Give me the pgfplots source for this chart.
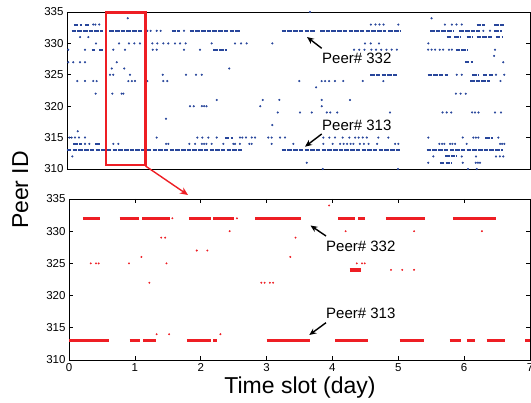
\documentclass[border=0pt]{standalone}
\usepackage{fontspec}
\setmainfont{Liberation Sans}
\usepackage{pgfplots}
\pgfplotsset{compat=1.18}
\usetikzlibrary{arrows.meta}

\definecolor{peerblue}{RGB}{40,70,155}
\definecolor{peerred}{RGB}{238,30,36}

\pgfplotsset{
  peer/.style={
    scale only axis,
    ymin=310, ymax=335,
    ytick={310,315,...,335},
    tick align=inside,
    major tick length=4pt,
    axis line style={line width=0.9pt},
    every tick/.style={black, line width=0.7pt},
    tick label style={font=\fontsize{11.5}{13}\selectfont},
    /pgf/number format/assume math mode=true,
    unbounded coords=jump,
  },
  runs/.style={no marks, line width=#1},
  dots/.style={only marks, mark=*, mark size=0.85pt},
}

\begin{document}
\begin{tikzpicture}
\path[use as bounding box] (0,0) rectangle (531pt,-403pt);

% ---- top: whole trace ----
\begin{axis}[peer, at={(67pt,-12pt)}, anchor=north west,
  width=463pt, height=157pt, xmin=0, xmax=80, xtick=\empty]
\addplot[runs=1.9pt, peerblue, dash pattern=on 4.5pt off 1.2pt] coordinates {
 (0.81,332) (6.27,332) (6.27,nan) (7.31,332) (12.91,332) (12.91,nan)
 (18.09,332) (19.53,332) (19.53,nan) (21.2,332) (30.0,332) (30.0,nan)
 (37.1,332) (43.0,332) (43.0,nan) (43.72,332) (55.12,332) (55.12,nan)
 (55.52,332) (57.54,332) (57.54,nan) (62.73,332) (66.92,332) (66.92,nan)
 (67.79,332) (71.37,332) (71.37,nan) (73.84,332) (75.22,332) (75.22,nan)
 (0,313) (30.19,313) (30.19,nan) (37.1,313) (57.54,313) (57.54,nan)
 (62.16,313) (75.39,313) (75.39,nan)
 (1.2,333) (2.54,333) (2.54,nan) (3.1,333) (3.85,333) (3.85,nan)
 (70.8,333) (72.2,333) (72.2,nan) (73.8,333) (75.56,333) (75.56,nan)
 (65.6,331) (66.4,331) (66.4,nan) (66.9,331) (68.1,331) (68.1,nan)
 (69.07,331) (70.2,331) (70.2,nan) (70.8,331) (73.4,331) (73.4,nan)
 (74.1,331) (75.2,331) (75.2,nan)
 (4.27,329) (4.84,329) (4.84,nan) (5.58,329) (6.17,329) (6.17,nan)
 (25.28,329) (27.6,329) (27.6,nan) (67.17,329) (69.34,329) (69.34,nan)
 (68.77,327) (70.16,327) (70.16,nan)
 (52.4,325) (57.0,325) (57.0,nan) (62.3,325) (65.9,325) (65.9,nan)
 (69.98,325) (71.0,325) (71.0,nan) (71.88,325) (73.6,325) (73.6,nan)
 (69.64,324) (73.09,324) (73.09,nan)
 (27.3,315) (28.74,315) (28.74,nan) (72.23,315) (73.66,315) (73.66,nan)
 (1.09,314) (2.54,314) (2.54,nan) (4.84,314) (5.7,314) (5.7,nan)
 (65.32,312) (67.34,312) (67.34,nan) (64.45,311) (66.48,311)
};
\addplot[dots, peerblue] coordinates {
 (42.0,335) (10.49,334) (63.0,334)
 (4.54,333) (4.9,333) (5.58,333) (52.5,333) (53.3,333) (54.0,333) (54.7,333)
 (57.25,333) (65.3,333) (66.5,333) (67.3,333) (68.2,333)
 (13.88,332) (14.46,332) (15.5,332) (16.19,332) (20.22,332) (71.94,332) (73.09,332)
 (2.25,331) (3.68,331)
 (5.01,330) (8.99,330) (10.71,330) (11.63,330) (12.61,330) (13.6,330) (14.74,330)
 (15.6,330) (16.64,330) (17.5,330) (18.66,330) (19.53,330) (20.51,330) (25.0,330)
 (29.03,330) (30.07,330) (31.05,330) (35.48,330) (51.49,330) (52.48,330)
 (53.91,330) (62.43,330)
 (0.22,329) (3.11,329) (8.0,329) (10.02,329) (14.81,329) (15.5,329) (20.22,329)
 (22.98,329) (49.6,329) (50.5,329) (51.4,329) (52.6,329) (53.4,329) (54.3,329)
 (55.2,329) (56.1,329) (57.0,329) (62.4,329) (63.0,329) (63.6,329) (64.4,329)
 (65.0,329) (66.0,329) (66.5,329) (73.96,329)
 (73.8,328)
 (0.22,327) (1.09,327) (2.25,327) (3.11,327) (8.59,327) (75.39,327)
 (7.72,326) (9.9,326) (28.04,326)
 (7.43,325) (8.0,325) (10.89,325) (16.54,325) (20.56,325) (22.29,325) (23.28,325)
 (67.34,325) (68.2,325) (74.13,325) (75.56,325)
 (1.78,324) (3.11,324) (4.54,324) (5.13,324) (10.6,324) (11.2,324) (11.75,324)
 (13.88,324) (16.64,324) (17.33,324) (40.14,324) (44.0,324) (44.6,324) (45.3,324)
 (46.3,324) (47.74,324) (51.1,324) (54.66,324) (74.9,324)
 (43.03,323)
 (4.96,322) (7.83,322) (9.45,322) (9.73,322) (67.2,322) (68.0,322) (68.9,322)
 (25.87,321) (33.82,321) (36.69,321) (44.01,321) (48.9,321)
 (21.25,320) (21.9,320) (23.3,320) (23.7,320) (24.1,320) (33.4,320) (44.01,320)
 (36.4,319) (40.26,319) (42.28,319) (44.9,319) (45.5,319) (46.7,319) (55.8,319)
 (64.9,319) (65.6,319) (66.4,319) (70.0,319) (70.5,319) (71.1,319) (73.96,319)
 (74.99,319)
 (17.11,318) (35.48,317) (1.85,316)
 (0.4,315) (0.8,315) (1.38,315) (2.07,315) (3.11,315) (15.5,315) (22.52,315)
 (23.38,315) (24.42,315) (25.87,315) (29.89,315) (30.29,315) (30.93,315)
 (31.92,315) (32.49,315) (34.78,315) (35.37,315) (36.81,315) (37.67,315)
 (44.29,315) (45.33,315) (46.31,315) (47.64,315) (48.78,315) (49.8,315)
 (50.4,315) (51.1,315) (51.8,315) (53.79,315) (55.52,315) (62.43,315)
 (68.38,315) (70.21,315) (70.64,315) (71.07,315) (74.53,315)
 (3.11,314) (3.85,314) (8.0,314) (8.86,314) (17.11,314) (17.5,314) (21.13,314)
 (22.12,314) (23.3,314) (23.7,314) (24.1,314) (25.0,314) (27.01,314) (28.74,314)
 (29.03,314) (29.89,314) (31.5,314) (31.92,314) (35.37,314) (39.1,314)
 (44.29,314) (45.91,314) (47.2,314) (47.8,314) (48.4,314) (49.0,314) (49.5,314)
 (50.6,314) (51.3,314) (52.1,314) (53.6,314) (56.68,314) (57.25,314) (64.33,314)
 (64.8,314) (65.2,314) (66.18,314) (66.6,314) (67.05,314) (69.07,314)
 (74.82,314) (75.2,314) (75.56,314)
 (0.92,312) (63.3,312) (68.2,312) (70.68,312) (74.13,312) (74.8,312) (75.39,312)
 (41.42,311) (62.43,311) (68.38,311) (70.62,311) (71.0,311) (71.37,311)
 (44.2,310) (57.2,310) (69.3,310) (70.8,310)
};
\end{axis}

% ---- bottom: one week ----
\begin{axis}[peer, at={(69pt,-199pt)}, anchor=north west,
  width=461pt, height=161pt, xmin=0, xmax=7, xtick={0,...,7}]
\addplot[runs=3.4pt, peerred] coordinates {
 (0.21,332) (0.47,332) (0.47,nan) (0.77,332) (1.07,332) (1.07,nan)
 (1.11,332) (1.53,332) (1.53,nan) (1.82,332) (2.16,332) (2.16,nan)
 (2.19,332) (2.51,332) (2.51,nan) (2.83,332) (3.53,332) (3.53,nan)
 (4.09,332) (4.34,332) (4.34,nan) (4.39,332) (4.49,332) (4.49,nan)
 (4.81,332) (5.40,332) (5.40,nan) (5.83,332) (6.48,332) (6.48,nan)
 (0.0,313) (0.60,313) (0.60,nan) (0.92,313) (1.08,313) (1.08,nan)
 (1.13,313) (1.32,313) (1.32,nan) (1.79,313) (2.16,313) (2.16,nan)
 (2.19,313) (2.25,313) (2.25,nan) (3.0,313) (3.66,313) (3.66,nan)
 (4.04,313) (4.54,313) (4.54,nan) (5.02,313) (5.39,313) (5.39,nan)
 (5.78,313) (5.95,313) (5.95,nan) (6.04,313) (6.16,313) (6.16,nan)
 (6.34,313) (6.62,313) (6.62,nan) (6.93,313) (7.0,313) (7.0,nan)
 (4.26,324) (4.44,324)
};
\addplot[dots, peerred, mark size=0.75pt] coordinates {
 (1.57,332) (2.55,332) (3.95,334)
 (2.44,330) (4.20,330) (5.24,330) (6.27,330)
 (1.40,329) (1.46,329) (3.44,329)
 (1.94,327) (2.10,327) (1.10,326) (3.36,326)
 (0.33,325) (0.41,325) (0.45,325) (0.91,325) (1.48,325) (4.37,325) (4.45,325) (4.49,325)
 (4.89,324) (5.06,324) (5.24,324)
 (1.22,322) (2.92,322) (2.97,322) (3.05,322) (3.10,322)
 (1.33,314) (1.52,314) (2.30,314)
};
\end{axis}

% ---- labels and call-outs ----
\begin{scope}[x=1pt, y=-1pt]
\draw[peerred, line width=2.6pt] (106,12.5) rectangle (145.5,165);
\draw[peerred, line width=1.4pt, -{Stealth[length=8pt,width=7pt]}] (145.5,166) -- (188,195);
\begin{scope}[black, line width=1.4pt, -{Stealth[length=7pt,width=6pt]}]
\draw (321.7,48.3) -- (307,37);
\draw (321.7,134) -- (305,146.7);
\draw (326,236) -- (310.5,225.5);
\draw (326,322.7) -- (309.3,335);
\end{scope}
\begin{scope}[font=\fontsize{15}{17}\selectfont, inner sep=0pt, anchor=west]
\node at (322,58) {Peer\# 332};
\node at (322,125.5) {Peer\# 313};
\node at (326,246) {Peer\# 332};
\node at (326,313.3) {Peer\# 313};
\end{scope}
\node[font=\fontsize{23}{25}\selectfont, anchor=base, inner sep=0pt] at (300,394) {Time slot (day)};
\node[font=\fontsize{23}{25}\selectfont, anchor=base, rotate=90, inner sep=0pt] at (28,190) {Peer ID};
\end{scope}
\end{tikzpicture}
\end{document}
